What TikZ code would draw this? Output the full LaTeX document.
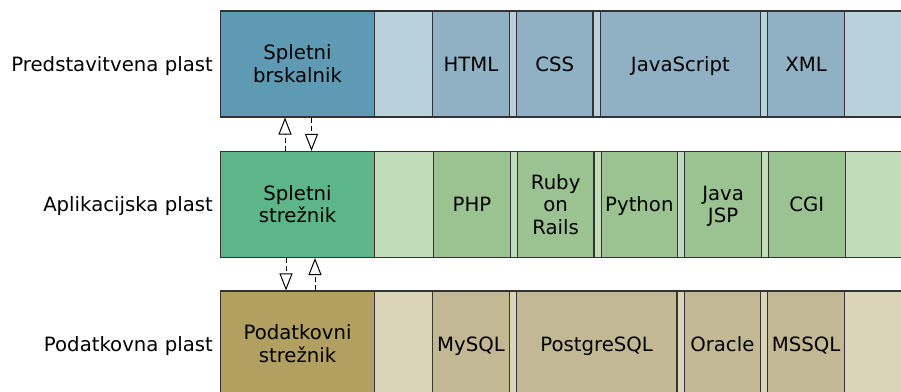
\documentclass[tikz,border=0pt]{standalone}
\usepackage{fontspec}
\setmainfont{DejaVu Sans}
\usepackage{tikz}
\usetikzlibrary{positioning, arrows.meta}

\definecolor{presdark}{HTML}{5F9AB5}
\definecolor{presmid}{HTML}{8FB1C3}
\definecolor{preslight}{HTML}{B9D1DB}
\definecolor{appdark}{HTML}{5DB58A}
\definecolor{appmid}{HTML}{9AC391}
\definecolor{applight}{HTML}{C0DCB9}
\definecolor{datadark}{HTML}{B1A060}
\definecolor{datamid}{HTML}{C2B994}
\definecolor{datalight}{HTML}{DAD5B9}
\definecolor{edge}{HTML}{333333}

\newcommand{\topstrut}{\rule{0pt}{20.2pt}}
\newcommand{\botstrut}{\rule[-6pt]{0pt}{6pt}}

\begin{document}
\begin{tikzpicture}[x=1pt, y=1pt, node distance=6pt, font=\fontsize{19.7}{22.5}\selectfont,
		execute at begin node=\topstrut, execute at end node=\botstrut]
		\tikzstyle{server} = [rectangle, minimum width=154pt, minimum height=106pt, text centered, text width=150pt, inner sep=0pt, draw=edge, line width=1.1pt, anchor=west]
		
		\tikzstyle{tech} = [rectangle, minimum width=76.6pt, minimum height=106pt, text centered, text width=74pt, inner sep=0pt, draw=edge, line width=1.1pt]
		
		\tikzstyle{wide} = [tech, minimum width=160.6pt, text width=158pt]
		
		\tikzstyle{band} = [draw=edge, line width=1.1pt]
		
		\tikzstyle{layer} = [anchor=east, inner sep=0pt]
		
		\tikzstyle{arrow} = [-{Triangle[open, length=17pt, width=13pt]}, dash pattern=on 5pt off 3pt, line width=1pt, draw=black]
		
		\clip (0,0) rectangle (901,391);
		
		% Layer names
		\node (lpres) [layer] at (213,327) {Predstavitvena plast};
		\node (lapp) [layer] at (213,186.5) {Aplikacijska plast};
		\node (ldata) [layer] at (213,47) {Podatkovna plast};
		
		% Bands behind the technologies
		\draw [band, fill=preslight] (374,274) rectangle (910,380);
		\draw [band, fill=applight] (374,133.5) rectangle (910,239.5);
		\draw [band, fill=datalight] (374,-6) rectangle (910,100);
		
		% Presentation layer
		\node (browser) [server, fill=presdark] at (220,327) {Spletni\\brskalnik};
		\node (html) [tech, fill=presmid, right=57pt of browser] {HTML};
		\node (css) [tech, fill=presmid, right=of html] {CSS};
		\node (js) [wide, fill=presmid, right=of css] {JavaScript};
		\node (xml) [tech, fill=presmid, right=of js] {XML};
		
		% Application layer
		\node (webserver) [server, fill=appdark] at (220,186.5) {Spletni\\strežnik};
		\node (php) [tech, fill=appmid, right=58pt of webserver] {PHP};
		\node (ruby) [tech, fill=appmid, right=of php] {Ruby\\on\\Rails};
		\node (python) [tech, fill=appmid, right=of ruby] {Python};
		\node (jsp) [tech, fill=appmid, right=of python] {Java\\JSP};
		\node (cgi) [tech, fill=appmid, right=of jsp] {CGI};
		
		% Data layer
		\node (dbserver) [server, fill=datadark] at (220,47) {Podatkovni\\strežnik};
		\node (mysql) [tech, fill=datamid, right=57pt of dbserver] {MySQL};
		\node (pgsql) [wide, fill=datamid, right=of mysql] {PostgreSQL};
		\node (oracle) [tech, fill=datamid, right=of pgsql] {Oracle};
		\node (mssql) [tech, fill=datamid, right=of oracle] {MSSQL};
		
		% Arrows
		\coordinate (req1) at ([xshift=65pt]browser.south west);
		\coordinate (res1) at ([xshift=91.5pt]webserver.north west);
		\coordinate (req2) at ([xshift=66pt]dbserver.north west);
		\coordinate (res2) at ([xshift=95pt]webserver.south west);
		
		\draw [arrow] (req1 |- webserver.north) -- (req1);
		\draw [arrow] (res1 |- browser.south) -- (res1);
		\draw [arrow] (req2 |- webserver.south) -- (req2);
		\draw [arrow] (res2 |- dbserver.north) -- (res2);
		
		\end{tikzpicture}
\end{document}
